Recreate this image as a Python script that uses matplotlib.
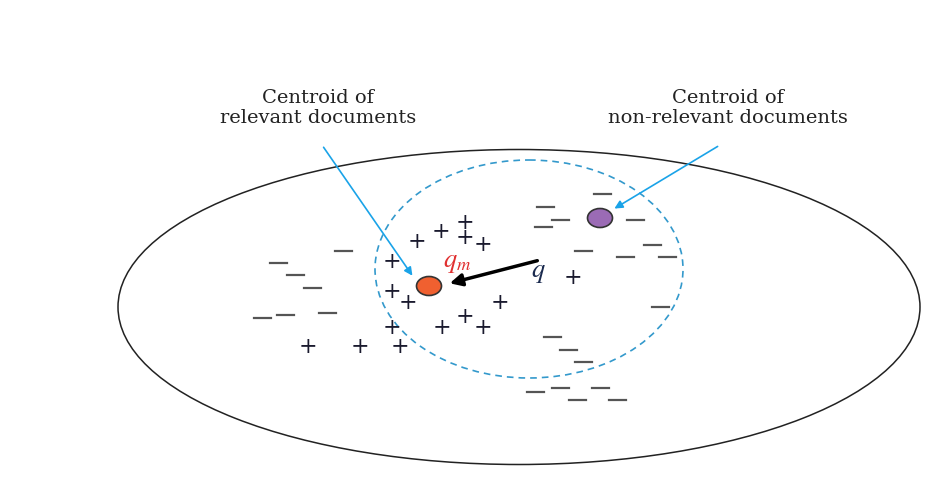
import matplotlib.pyplot as plt
from matplotlib.patches import Ellipse

plt.rcParams['mathtext.fontset'] = 'stix'

# positions in picture pixel coordinates
plus_x = [417, 441, 465, 465, 483, 392, 392, 408, 500, 465, 442, 483, 392, 308, 360, 400, 573]
plus_y = [242, 232, 223, 238, 245, 262, 292, 303, 303, 317, 328, 328, 328, 347, 347, 347, 278]
minus_x = [343, 278, 295, 312, 262, 285, 327, 602, 545, 560, 543, 635, 583, 652, 625, 667,
           660, 552, 568, 583, 535, 560, 600, 577, 617]
minus_y = [251, 263, 275, 288, 318, 315, 313, 194, 207, 220, 227, 220, 251, 245, 257, 257,
           307, 337, 350, 362, 392, 388, 388, 400, 400]

fig = plt.figure(figsize=(9.45, 4.91), dpi=100)
ax = fig.add_axes([0, 0, 1, 1])
ax.set_xlim(0, 945)
ax.set_ylim(491, 0)
ax.axis('off')

ax.add_patch(Ellipse((519, 307), 802, 315, fill=False, edgecolor='#222222', linewidth=1.1))
ax.add_patch(Ellipse((529, 269), 308, 218, fill=False, edgecolor='#3399cc',
                     linewidth=1.2, linestyle=(0, (4, 3))))

for x, y in zip(plus_x, plus_y):
    ax.text(x, y, '+', ha='center', va='center', fontsize=16, color='#1a1a2e', family='DejaVu Serif')
for x, y in zip(minus_x, minus_y):
    ax.plot([x - 8.5, x + 8.5], [y, y], color='#555555', linewidth=1.6)

ax.add_patch(Ellipse((429, 286), 25, 19, facecolor='#f06030', edgecolor='#333333', linewidth=1.2, zorder=5))
ax.add_patch(Ellipse((600, 218), 25, 19, facecolor='#9b6bb5', edgecolor='#333333', linewidth=1.2, zorder=5))

ax.annotate('', xy=(447, 284), xytext=(540, 260),
            arrowprops=dict(arrowstyle='-|>', color='black', lw=2.5, mutation_scale=18))
ax.text(538, 272, r'$q$', fontsize=19, color='#1a2a4e', ha='center', va='center')
ax.text(457, 262, r'$q_m$', fontsize=19, color='#e03030', ha='center', va='center')

ax.annotate('', xy=(414, 278), xytext=(322, 145),
            arrowprops=dict(arrowstyle='-|>', color='#1aa3e8', lw=1.2, mutation_scale=12))
ax.annotate('', xy=(612, 210), xytext=(720, 145),
            arrowprops=dict(arrowstyle='-|>', color='#1aa3e8', lw=1.2, mutation_scale=12))

ax.text(318, 108, 'Centroid of\nrelevant documents', ha='center', va='center',
        fontsize=14, family='DejaVu Serif', color='#222222', linespacing=1.15)
ax.text(728, 108, 'Centroid of\nnon-relevant documents', ha='center', va='center',
        fontsize=14, family='DejaVu Serif', color='#222222', linespacing=1.15)

fig.savefig('out.png', dpi=100)
